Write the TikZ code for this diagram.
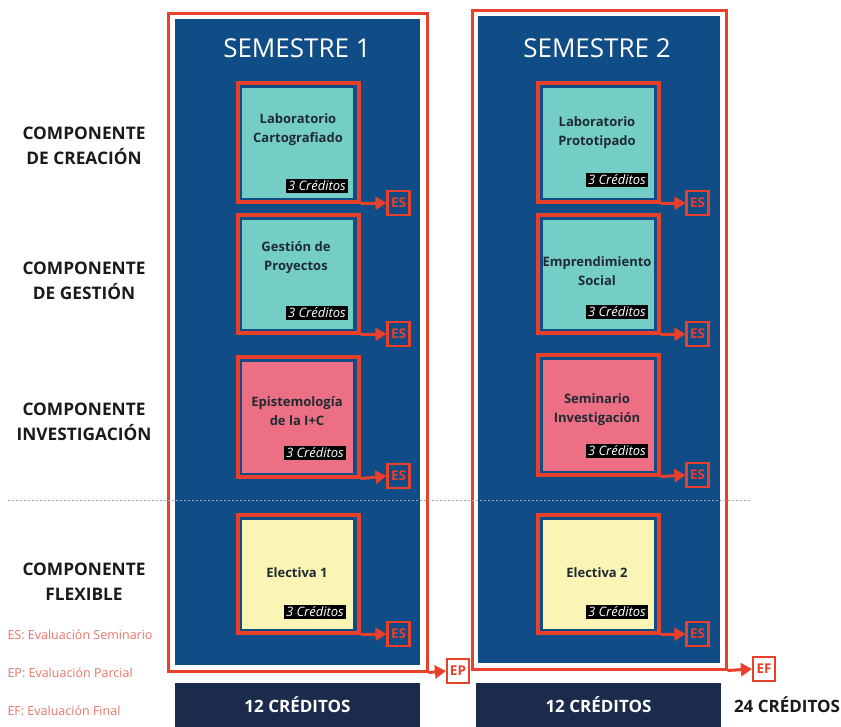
\documentclass[tikz,border=0pt]{standalone}
\usepackage{fontspec}
\setmainfont{Open Sans}
\usetikzlibrary{arrows.meta}
\definecolor{panelblue}{HTML}{104C86}
\definecolor{navy}{HTML}{1B2B4B}
\definecolor{redl}{HTML}{E8402A}
\definecolor{tealnote}{HTML}{74CEC6}
\definecolor{pinknote}{HTML}{EC6F84}
\definecolor{yellownote}{HTML}{FAF5B5}
\definecolor{darktext}{HTML}{1A1A1A}
\definecolor{notetext}{HTML}{1F2B33}
\definecolor{legendred}{HTML}{E8756A}
\tikzset{
  frame/.style={draw=redl, line width=3pt, inner sep=0pt},
  notebox/.style={draw=redl, line width=3.2pt, inner sep=0pt, minimum width=121pt},
  notefill/.style={inner sep=0pt, minimum width=111pt},
  notetxt/.style={text=notetext, font=\fontsize{13}{19}\selectfont\bfseries, align=center},
  tag/.style={fill=black, text=white, font=\fontsize{13}{14}\selectfont\itshape, inner sep=2pt, anchor=east},
  esbox/.style={draw=redl, line width=2.2pt, minimum width=22pt, minimum height=24pt, inner sep=0pt, text=redl, font=\fontsize{13.5}{14}\selectfont\bfseries},
  arr/.style={draw=redl, line width=3pt, -{Triangle[length=11pt,width=13pt]}},
  complabel/.style={text=darktext, font=\fontsize{17.3}{25}\selectfont\bfseries, align=center},
  legend/.style={text=legendred, font=\fontsize{12.5}{15}\selectfont, anchor=west},
  credits/.style={font=\fontsize{17}{18}\selectfont\bfseries}
}
\begin{document}
\begin{tikzpicture}[x=1pt,y=-1pt]
\useasboundingbox (0,0) rectangle (841,726);
\fill[white] (0,0) rectangle (841,726);

% blue panels
\node[fill=panelblue, inner sep=0pt, minimum width=245pt, minimum height=646pt] (panel1) at (297.5,342) {};
\node[fill=panelblue, inner sep=0pt, minimum width=242pt, minimum height=647pt] (panel2) at (599,339.5) {};

% semester frames
\node[frame, minimum width=259pt, minimum height=658pt] (f1) at (297.5,342) {};
\node[frame, minimum width=254pt, minimum height=659pt] (f2) at (599,339.5) {};

\node[text=white, font=\fontsize{26}{30}\selectfont] (s1) at (297,48) {SEMESTRE 1};
\node[text=white, font=\fontsize{26}{30}\selectfont] (s2) at (597,48) {SEMESTRE 2};

% ---------- Semester 1 notes ----------
\node[notefill, fill=tealnote, minimum height=110pt] (a1) at (297.5,142.5) {};
\node[notebox, minimum height=119pt] (n11) at (298.5,142.5) {};
\node[notetxt] (t11) at (298,130) {Laboratorio\\Cartografiado};
\node[tag] (g11) at (348,186) {3 Créditos};

\node[notefill, fill=tealnote, minimum height=109pt] (a2) at (297.5,274) {};
\node[notebox, minimum height=118pt] (n12) at (298.5,274) {};
\node[notetxt] (t12) at (296,257.5) {Gestión de\\Proyectos};
\node[tag] (g12) at (348,313) {3 Créditos};

\node[notefill, fill=pinknote, minimum height=111pt] (a3) at (297.5,417) {};
\node[notebox, minimum height=120pt] (n13) at (298.5,417) {};
\node[notetxt] (t13) at (297,411.5) {Epistemología\\de la I+C};
\node[tag] (g13) at (346,453) {3 Créditos};

\node[notefill, fill=yellownote, minimum height=109pt] (a4) at (297.5,574) {};
\node[notebox, minimum height=118pt] (n14) at (298.5,574) {};
\node[notetxt] (t14) at (297,573) {Electiva 1};
\node[tag] (g14) at (346,612) {3 Créditos};

% ---------- Semester 2 notes ----------
\node[notefill, fill=tealnote, minimum height=110pt] (b1) at (598,142.5) {};
\node[notebox, minimum height=119pt] (n21) at (598.5,142.5) {};
\node[notetxt] (t21) at (597,132.5) {Laboratorio\\Prototipado};
\node[tag] (g21) at (648,180) {3 Créditos};

\node[notefill, fill=tealnote, minimum height=109pt] (b2) at (598,274) {};
\node[notebox, minimum height=118pt] (n22) at (598.5,274) {};
\node[notetxt] (t22) at (597,271.5) {Emprendimiento\\Social};
\node[tag] (g22) at (648,312) {3 Créditos};

\node[notefill, fill=pinknote, minimum height=111pt] (b3) at (598,415) {};
\node[notebox, minimum height=120pt] (n23) at (598.5,415) {};
\node[notetxt] (t23) at (597,409.5) {Seminario\\Investigación};
\node[tag] (g23) at (648,451) {3 Créditos};

\node[notefill, fill=yellownote, minimum height=109pt] (b4) at (598,574) {};
\node[notebox, minimum height=118pt] (n24) at (598.5,574) {};
\node[notetxt] (t24) at (597,573) {Electiva 2};
\node[tag] (g24) at (648,612) {3 Créditos};

% ---------- ES boxes ----------
\node[esbox] (e11) at (398.5,203) {ES};
\node[esbox] (e12) at (398.5,334) {ES};
\node[esbox] (e13) at (398.5,476) {ES};
\node[esbox] (e14) at (398.5,634) {ES};
\node[esbox] (e21) at (697.5,203) {ES};
\node[esbox] (e22) at (697.5,334) {ES};
\node[esbox] (e23) at (697.5,475) {ES};
\node[esbox] (e24) at (697.5,634) {ES};

\draw[arr] (n11.south east) -- (e11.west);
\draw[arr] (n12.south east) -- (e12.west);
\draw[arr] (n13.south east) -- (e13.west);
\draw[arr] (n14.south east) -- (e14.west);
\draw[arr] (n21.south east) -- (e21.west);
\draw[arr] (n22.south east) -- (e22.west);
\draw[arr] (n23.south east) -- (e23.west);
\draw[arr] (n24.south east) -- (e24.west);

% EP / EF
\node[esbox] (ep) at (458,671) {EP};
\node[esbox] (ef) at (764,669) {EF};
\draw[arr] (f1.south east) -- (ep.west);
\draw[arr] (f2.south east) -- (ef.west);

% dashed separator
\coordinate (dl) at (8,500);
\coordinate (dr) at (750,500);
\draw[gray!70, line width=0.8pt, dash pattern=on 2pt off 2pt] (dl) -- (dr);

% component labels
\node[complabel] (c1) at (84,145.5) {COMPONENTE\\DE CREACIÓN};
\node[complabel] (c2) at (84,280.5) {COMPONENTE\\DE GESTIÓN};
\node[complabel] (c3) at (84,421.5) {COMPONENTE\\INVESTIGACIÓN};
\node[complabel] (c4) at (84,582) {COMPONENTE\\FLEXIBLE};

% legend
\node[legend] (l1) at (4,635) {ES: Evaluación Seminario};
\node[legend] (l2) at (4,673) {EP: Evaluación Parcial};
\node[legend] (l3) at (4,711) {EF: Evaluación Final};

% credits bars
\node[fill=navy, inner sep=0pt, minimum width=245pt, minimum height=44pt] (cr1) at (297.5,705) {};
\node[fill=navy, inner sep=0pt, minimum width=245pt, minimum height=44pt] (cr2) at (598.5,705) {};
\node[credits, text=white] (ct1) at (cr1) {12 CRÉDITOS};
\node[credits, text=white] (ct2) at (cr2) {12 CRÉDITOS};
\node[credits, text=darktext] (ct3) at (787,705) {24 CRÉDITOS};
\end{tikzpicture}
\end{document}
